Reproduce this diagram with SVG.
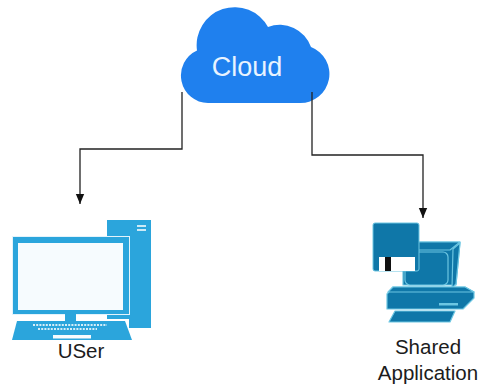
<svg xmlns="http://www.w3.org/2000/svg" width="480" height="386" viewBox="0 0 480 386">
<defs>
<marker id="arrow" markerUnits="userSpaceOnUse" markerWidth="10" markerHeight="13" refX="12" refY="5" orient="auto" viewBox="0 0 12 10"><path d="M0 0L12 5L0 10Z" fill="#111"/></marker>
</defs>
<style>
text{font-family:"Liberation Sans",Arial,sans-serif;fill:#1c1c1c;font-size:20.500px;text-anchor:middle}
.c{fill:none;stroke:#222;stroke-width:1.3}
.b{fill:#2ba5dc}
.w{fill:#f6fbfe}
.t{fill:#0f77a8;stroke:#6cc6e2;stroke-width:1.2;stroke-linejoin:round}
</style>
<rect width="480" height="386" fill="#fff"/>
<g id="cloud">
<path d="M208 103A27.500 27.500 0 0 1 197 50.500A38 38 0 0 1 268 27A33 33 0 0 1 311 47A29 29 0 0 1 300 103Z" fill="#1f80ee"/>
<text x="247" y="76" style="fill:#e8f3ff;font-size:27px">Cloud</text>
</g>
<g id="connectors">
<path class="c" d="M182 92V149H80V204" marker-end="url(#arrow)"/>
<path class="c" d="M312 92V155H423V218" marker-end="url(#arrow)"/>
</g>
<g id="user">
<rect class="b" x="107" y="220" width="44" height="95"/>
<rect class="b" x="129" y="315" width="22" height="13"/>
<rect class="b" x="107" y="315" width="24" height="4"/>
<rect x="137" y="225" width="9" height="2" fill="#cdeaf6"/>
<rect x="137" y="229" width="9" height="2" fill="#cdeaf6"/>
<rect x="12" y="236" width="118" height="79" fill="#e3f3fb"/>
<rect class="b" x="13" y="237" width="116" height="77"/>
<rect class="w" x="18" y="243" width="105" height="67"/>
<rect class="b" x="65" y="314" width="11" height="7"/>
<path class="b" d="M17 321H125L132 340H12Z"/>
<path d="M33 325H107M38 329H97" stroke="#d6eef8" stroke-width="2" stroke-dasharray="2 1.200"/>
<rect class="w" x="53" y="335" width="38" height="3.500"/>
<text x="81" y="358">USer</text>
</g>
<g id="shared-application">
<path class="t" d="M410 242H460L456 285H403V252Z"/>
<path class="t" d="M410 242H460L450 250H403Z"/>
<path class="t" d="M453 249L460 243L456 284L452 288Z"/>
<rect x="405" y="252" width="43" height="33" rx="5" fill="#0f77a8" stroke="#6cc6e2" stroke-width="1.200"/>
<path class="t" d="M393 287H465L474 292V298L463 309H387V294Z"/>
<path class="t" d="M393 287H465L474 292H388Z"/>
<rect x="439" y="303" width="19" height="2.500" fill="#6cc6e2"/>
<path class="t" d="M395 311H455L450 322H389Z"/>
<rect x="373" y="223" width="46" height="48" rx="2" fill="#0f77a8" stroke="#6cc6e2" stroke-width="1"/>
<rect x="379" y="257" width="36" height="14" fill="#fff"/>
<rect x="385" y="257" width="6" height="14" fill="#111"/>
<text x="428" y="354">Shared</text>
<text x="428" y="380">Application</text>
</g>
</svg>
